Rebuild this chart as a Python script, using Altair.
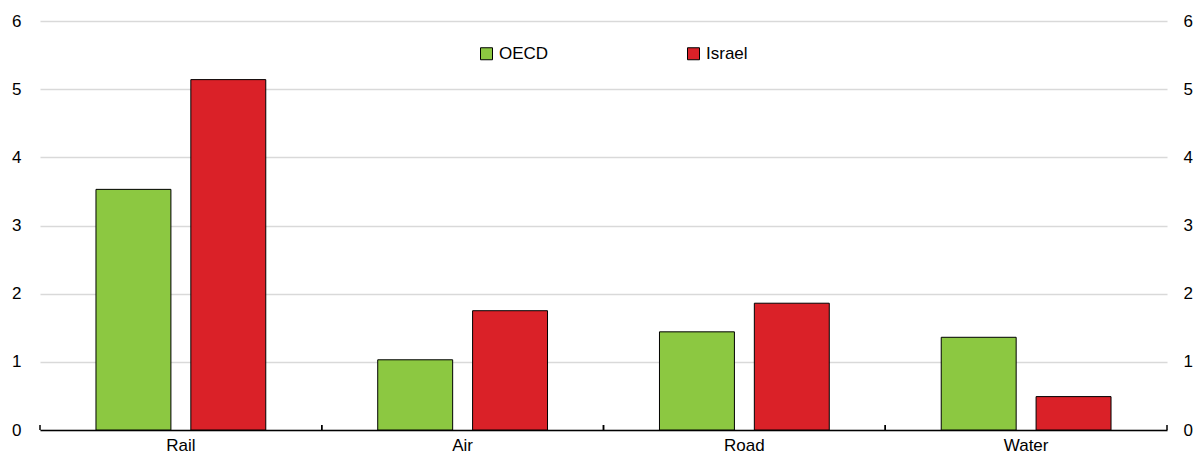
import altair as alt
import pandas as pd

categories = ["Rail", "Air", "Road", "Water"]
series = ["OECD", "Israel"]
oecd = [3.53, 1.03, 1.44, 1.36]
israel = [5.14, 1.75, 1.86, 0.49]
colors = ["#8CC841", "#DA2128"]
y_ticks = [0, 1, 2, 3, 4, 5, 6]

rows = []
for c, o, i in zip(categories, oecd, israel):
    rows.append({"cat": c, "series": "OECD", "value": o})
    rows.append({"cat": c, "series": "Israel", "value": i})
df = pd.DataFrame(rows)
cats = pd.DataFrame({"cat": categories})

FONT = "Liberation Sans"
FS = 17
W, H = 1127, 409

xscale = alt.Scale(domain=categories, paddingInner=0, paddingOuter=0)
yscale = alt.Scale(domain=[0, 6], nice=False, zero=True)
xaxis = alt.Axis(title=None, labelAngle=0, ticks=False, domain=True,
                 domainColor="black", domainWidth=1.5, labelPadding=7,
                 labelFontSize=FS, labelColor="black", labelFont=FONT)
xenc = alt.X("cat:N", scale=xscale, sort=categories, axis=xaxis)

bars = alt.Chart(df).mark_bar(stroke="black", strokeWidth=1).encode(
    x=xenc,
    xOffset=alt.XOffset("series:N", sort=series,
                        scale=alt.Scale(domain=series, paddingInner=0.21, paddingOuter=0.59)),
    y=alt.Y("value:Q", scale=yscale,
            axis=alt.Axis(title=None, values=y_ticks, orient="left", ticks=False, domain=False,
                          grid=True, gridColor="#d9d9d9", gridWidth=1.5,
                          labelPadding=19, labelFontSize=FS, labelColor="black", labelFont=FONT)),
    color=alt.Color("series:N", sort=series,
                    scale=alt.Scale(domain=series, range=colors),
                    legend=alt.Legend(title=None, orient="none", legendX=438, legendY=24,
                                      direction="horizontal", symbolType="square",
                                      symbolSize=144, symbolStrokeColor="black",
                                      symbolStrokeWidth=1, symbolOpacity=1,
                                      labelFontSize=FS, labelFont=FONT, labelColor="black",
                                      labelOffset=4, columnPadding=136)),
)

right_axis = alt.Chart(df).mark_bar(opacity=0).encode(
    x=xenc,
    y=alt.Y("value:Q", scale=yscale,
            axis=alt.Axis(title=None, values=y_ticks, orient="right", ticks=False, domain=False,
                          grid=False, labelPadding=16, labelFontSize=FS, labelColor="black",
                          labelFont=FONT)),
)

tick_left = alt.Chart(cats).mark_rule(color="black", strokeWidth=1.5).encode(
    x=alt.X("cat:N", scale=xscale, sort=categories, bandPosition=0, axis=xaxis),
    y=alt.value(H - 5), y2=alt.value(H),
)
tick_right = alt.Chart(cats).mark_rule(color="black", strokeWidth=1.5).encode(
    x=alt.X("cat:N", scale=xscale, sort=categories, bandPosition=1, axis=xaxis),
    y=alt.value(H - 5), y2=alt.value(H),
)

chart = alt.layer(bars, right_axis, tick_left, tick_right).resolve_axis(
    y="independent"
).properties(
    width=W, height=H,
    autosize=alt.AutoSizeParams(type="none"),
    padding={"left": 32, "top": 13, "right": 26, "bottom": 27},
).configure_view(stroke=None)

chart.save("out.html", embed_options={"renderer": "svg", "actions": False})
